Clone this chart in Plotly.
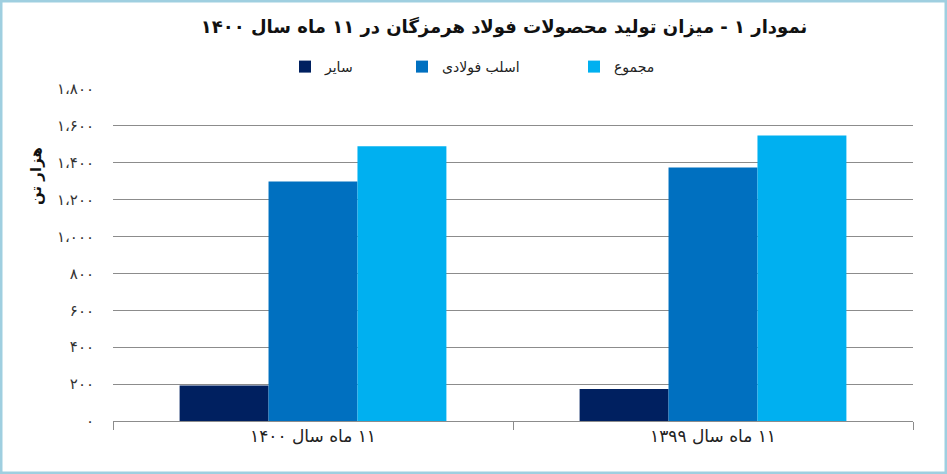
import plotly.graph_objects as go

# Data (thousand tonnes)
RLM = "\u200f"  # keeps the Persian labels in right-to-left order
categories = [RLM + "۱۱ ماه سال ۱۴۰۰", RLM + "۱۱ ماه سال ۱۳۹۹"]
other = [192, 174]          # سایر
slab = [1298, 1374]         # اسلب فولادی
total = [1490, 1548]        # مجموع

tick_vals = [0, 200, 400, 600, 800, 1000, 1200, 1400, 1600, 1800]
tick_text = ["۰", "۲۰۰", "۴۰۰", "۶۰۰", "۸۰۰", "۱،۰۰۰", "۱،۲۰۰", "۱،۴۰۰", "۱،۶۰۰", "۱،۸۰۰"]

font_family = "DejaVu Sans"

ml, mr, mt, mb = 113, 34, 89, 53
pw, ph = 947 - ml - mr, 474 - mt - mb

fig = go.Figure()
fig.add_trace(go.Bar(x=categories, y=other, name="سایر", marker_color="#002060", legend="legend"))
fig.add_trace(go.Bar(x=categories, y=slab, name="اسلب فولادی", marker_color="#0070C0", legend="legend2"))
fig.add_trace(go.Bar(x=categories, y=total, name="مجموع", marker_color="#00B0F0", legend="legend3"))
fig.update_traces(marker_line_width=0)


def legend_at(px):
    return dict(
        orientation="h", x=(px - ml) / pw, xanchor="left",
        y=1 + (mt - 67) / ph, yanchor="middle",
        font=dict(size=14, color="#222"), bgcolor="rgba(0,0,0,0)",
    )


fig.update_layout(
    width=947, height=474,
    margin=dict(l=ml, r=mr, t=mt, b=mb),
    paper_bgcolor="white", plot_bgcolor="white",
    barmode="group", bargap=0.333, bargroupgap=0,
    font=dict(family=font_family, color="#222"),
    title=dict(
        text="<b>نمودار ۱ - میزان تولید محصولات فولاد هرمزگان در ۱۱ ماه سال ۱۴۰۰</b>",
        x=504 / 947, xanchor="center", y=1 - 27 / 474, yanchor="middle",
        font=dict(size=18, color="#111"),
    ),
    legend=legend_at(285),
    legend2=legend_at(402),
    legend3=legend_at(574),
    showlegend=True,
)

fig.update_yaxes(
    range=[0, 1800], tickvals=tick_vals, ticktext=tick_text,
    showgrid=True, gridcolor="#8c8c8c", gridwidth=1,
    zeroline=False, showline=False, ticks="",
    ticklabelstandoff=18,
    tickfont=dict(size=15, color="#333"),
)
fig.update_xaxes(
    showline=True, linecolor="#8c8c8c", linewidth=1,
    ticks="outside", tickson="boundaries", ticklen=8, tickcolor="#8c8c8c",
    tickfont=dict(size=17, color="#222"),
)

# y-axis title placed near the top as in the reference
fig.add_annotation(
    text="<b>هزار تن</b>", textangle=-90,
    xref="paper", yref="paper",
    x=(25 - ml) / pw, y=(474 - mb - 145) / ph,
    showarrow=False, font=dict(size=15, color="#111"),
)

# light blue frame around the picture
fig.add_shape(
    type="rect", xref="paper", yref="paper",
    x0=-ml / pw, x1=(947 - ml) / pw,
    y0=-mb / ph, y1=(474 - mb) / ph,
    line=dict(color="#9fcfe0", width=5), fillcolor="rgba(0,0,0,0)",
    layer="above",
)

fig.write_html(
    "out.html",
    config={"displayModeBar": False},
    post_script="document.body.style.margin='0';document.body.style.overflow='hidden';",
)
